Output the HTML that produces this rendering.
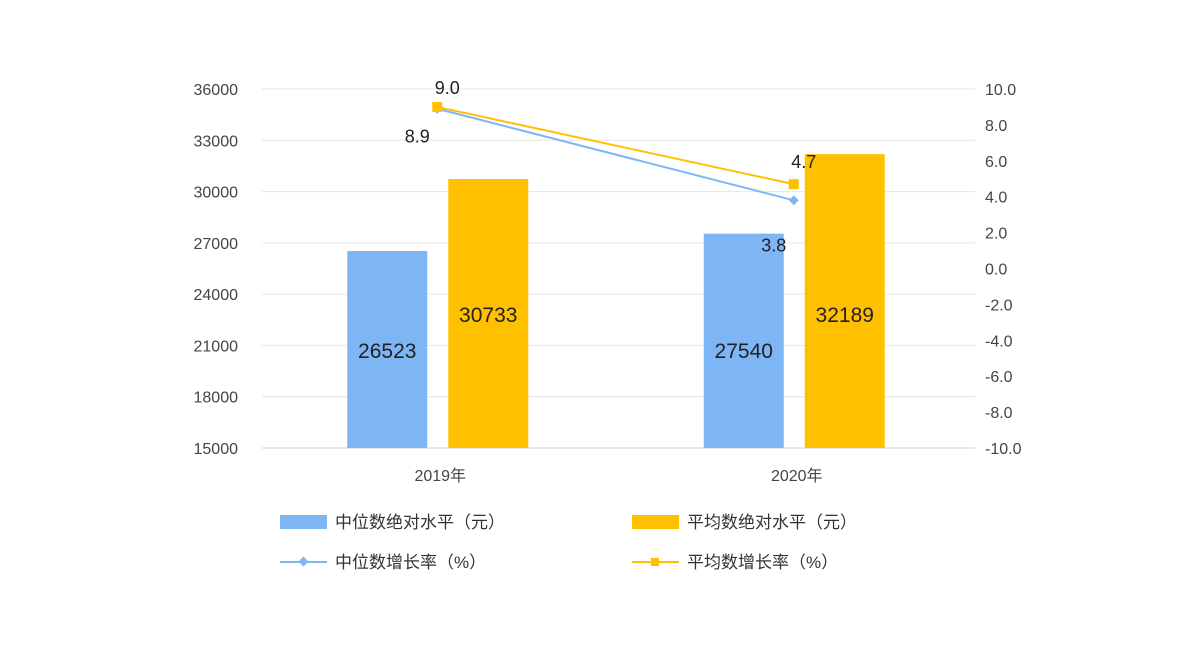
<!DOCTYPE html>
<html><head><meta charset="utf-8"><style>
body{margin:0;background:#fff;}
svg text{font-family:"Liberation Sans","Noto Sans CJK SC",sans-serif;}
</style></head><body>
<svg id="chart" width="1200" height="646" xmlns="http://www.w3.org/2000/svg">
<g id="grid"></g>
<g id="yl"></g>
<g id="yr"></g>
<g id="bars"></g>
<g id="lines"></g>
<g id="xl"></g>
<g font-size="17" fill="#333">
 <g><rect x="280" y="515" width="47" height="14" fill="#7EB6F5"/><text x="335" y="528">中位数绝对水平（元）</text></g>
 <g><rect x="632" y="515" width="47" height="14" fill="#FFC000"/><text x="687" y="528">平均数绝对水平（元）</text></g>
 <g><line x1="280" y1="562" x2="327" y2="562" stroke="#7EB6F5" stroke-width="2"/><rect x="300" y="558" width="7" height="7" fill="#7EB6F5" transform="rotate(45 303.5 561.5)"/><text x="335" y="568">中位数增长率（%）</text></g>
 <g><line x1="632" y1="562" x2="679" y2="562" stroke="#FFC000" stroke-width="2"/><rect x="651" y="558" width="8" height="8" fill="#FFC000"/><text x="687" y="568">平均数增长率（%）</text></g>
</g>
</svg>
<script>
const categories=["2019年","2020年"];
const medianLevel=[26523,27540];
const meanLevel=[30733,32189];
const medianGrowth=[8.9,3.8];
const meanGrowth=[9.0,4.7];
const leftTicks=[15000,18000,21000,24000,27000,30000,33000,36000];
const rightTicks=[-10,-8,-6,-4,-2,0,2,4,6,8,10];
const NS="http://www.w3.org/2000/svg";
const yTop=89,yBot=448,xLeft=262,xRight=975;
const yL=v=>yBot-(v-15000)/21000*(yBot-yTop);
const yR=v=>yBot-(v+10)/20*(yBot-yTop);
const cx=i=>xLeft+(xRight-xLeft)*(i+0.5)/categories.length;
const mx=i=>cx(i)-3;
function mk(p,t,a,txt){const e=document.createElementNS(NS,t);for(const k in a)e.setAttribute(k,a[k]);if(txt!==undefined)e.textContent=txt;document.getElementById(p).appendChild(e);return e;}
leftTicks.forEach(v=>{
 const g=mk('grid','line',{x1:xLeft,x2:xRight,y1:yL(v),y2:yL(v),stroke:v===15000?'#d0d0d0':'#e6e6e6','stroke-width':1});
 
 
 const t=mk('yl','text',{x:238,y:yL(v)+6,'text-anchor':'end','font-size':16,fill:'#444'},String(v));
 
 
});
rightTicks.forEach(v=>{
 const t=mk('yr','text',{x:985,y:yR(v)+6,'font-size':16,fill:'#444'},v.toFixed(1));
 
 
});
categories.forEach((c,i)=>{
 const x=cx(i);
 const t=mk('xl','text',{x:x,y:481,'text-anchor':'middle','font-size':16,fill:'#444'},c);
 
 
 const b1=mk('bars','rect',{x:x-93,y:yL(medianLevel[i]),width:80,height:yBot-yL(medianLevel[i]),fill:'#7EB6F5'});
 
 
 const b2=mk('bars','rect',{x:x+8,y:yL(meanLevel[i]),width:80,height:yBot-yL(meanLevel[i]),fill:'#FFC000'});
 
 
 const l1=mk('bars','text',{x:x-53,y:358,'text-anchor':'middle','font-size':21,fill:'#222'},String(medianLevel[i]));
 
 
 const l2=mk('bars','text',{x:x+48,y:322,'text-anchor':'middle','font-size':21,fill:'#222'},String(meanLevel[i]));
 
 
});
function line(vals,col,name){
 const pl=mk('lines','polyline',{points:vals.map((v,i)=>mx(i)+','+yR(v)).join(' '),fill:'none',stroke:col,'stroke-width':2});
 
 
}
line(medianGrowth,'#7EB6F5','line-median-growth');
line(meanGrowth,'#FFC000','line-mean-growth');
medianGrowth.forEach((v,i)=>{
 const m=mk('lines','rect',{x:mx(i)-3.5,y:yR(v)-3.5,width:7,height:7,fill:'#7EB6F5',transform:`rotate(45 ${mx(i)} ${yR(v)})`});
 
 
 const t=mk('lines','text',{x:mx(i)-20,y:yR(v)+(i===0?34:51),'text-anchor':'middle','font-size':18,fill:'#222'},v.toFixed(1));
 
 
});
meanGrowth.forEach((v,i)=>{
 const m=mk('lines','rect',{x:mx(i)-5,y:yR(v)-5,width:10,height:10,fill:'#FFC000'});
 
 
 const t=mk('lines','text',{x:mx(i)+10,y:yR(v)-(i===0?13:16),'text-anchor':'middle','font-size':18,fill:'#222'},v.toFixed(1));
 
 
});
</script>
</body></html>
